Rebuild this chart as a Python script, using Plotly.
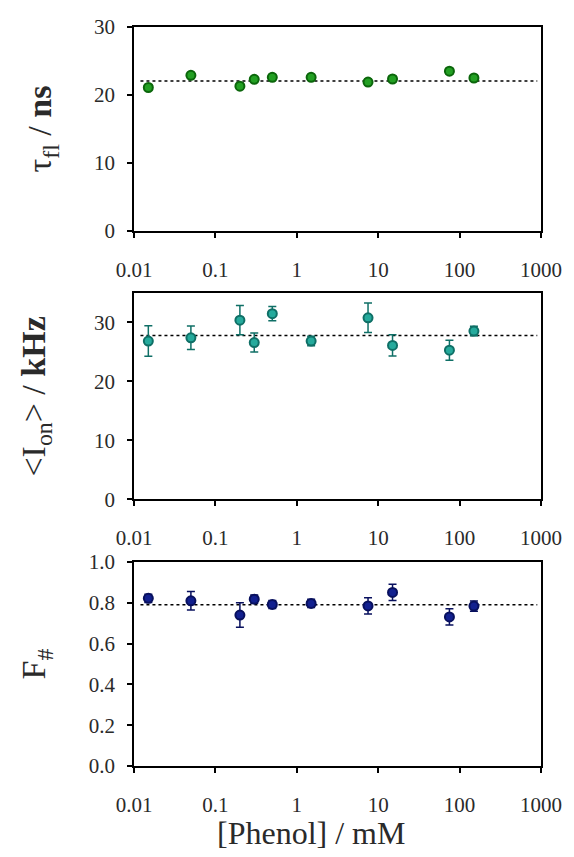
import plotly.graph_objects as go
from plotly.subplots import make_subplots

# Phenol concentrations (mM)
phenol_mM = [0.015, 0.05, 0.2, 0.3, 0.5, 1.5, 7.5, 15, 75, 150]

# Fluorescence lifetime (ns)
tau_fl = [21.1, 22.9, 21.3, 22.3, 22.6, 22.6, 21.9, 22.35, 23.5, 22.5]
tau_fl_err = [0.4, 0.4, 0.4, 0.4, 0.4, 0.4, 0.4, 0.4, 0.4, 0.4]

# Mean on-state intensity (kHz)
i_on = [26.85, 27.4, 30.4, 26.6, 31.5, 26.85, 30.8, 26.1, 25.3, 28.55]
i_on_err = [2.6, 2.0, 2.5, 1.6, 1.2, 0.8, 2.5, 1.8, 1.7, 0.8]

# Fraction F#
f_hash = [0.822, 0.81, 0.74, 0.818, 0.792, 0.797, 0.785, 0.851, 0.731, 0.784]
f_hash_err = [0.02, 0.045, 0.06, 0.02, 0.02, 0.02, 0.04, 0.04, 0.04, 0.025]

# Mean levels (dotted reference lines)
mean_tau = 22.05
mean_ion = 27.8
mean_f = 0.79
mean_x = [0.012, 900]

x_tickvals = [0.01, 0.1, 1, 10, 100, 1000]
x_ticktext = ["0.01", "0.1", "1", "10", "100", "1000"]

y_titles = ["τ<sub>fl</sub> / <b>ns</b>", "<I<sub>on</sub>> / <b>kHz</b>", "F<sub>#</sub>"]
x_title = "[Phenol] / mM"

fig = make_subplots(rows=3, cols=1, shared_xaxes=False, vertical_spacing=0.05)

SERIF = "Liberation Serif"
TEXT = "#2a2a2a"

panels = [
    (tau_fl, tau_fl_err, mean_tau, "#23a023", "#0b660b"),
    (i_on, i_on_err, mean_ion, "#25aa9c", "#0f6f66"),
    (f_hash, f_hash_err, mean_f, "#12208f", "#08105e"),
]

for i, (vals, errs, mean, fill, edge) in enumerate(panels, start=1):
    fig.add_trace(go.Scatter(
        x=mean_x, y=[mean, mean], mode="lines",
        line=dict(color="black", width=1.5, dash="dot"),
        showlegend=False, hoverinfo="skip"), row=i, col=1)
    fig.add_trace(go.Scatter(
        x=phenol_mM, y=vals, mode="markers",
        marker=dict(size=9, color=fill, line=dict(color=edge, width=2)),
        error_y=dict(type="data", array=errs, color=edge, thickness=1.5, width=4),
        showlegend=False), row=i, col=1)

# Domains of the three stacked panels
domains = [[0.724, 1.0], [0.361, 0.640], [0.0, 0.276]]
y_ranges = [[0, 30], [0, 35], [0, 1.0]]
y_dticks = [10, 10, 0.2]
y_formats = ["d", "d", ".1f"]
title_x_px = [42, 36, 36]

axis_common = dict(
    showline=True, linecolor="black", linewidth=1.5, mirror=True,
    ticks="outside", ticklen=5, tickwidth=1.5, tickcolor="black",
    showgrid=False, zeroline=False,
    tickfont=dict(family=SERIF, size=21, color=TEXT),
)

L, R, T, B = 134, 31, 27, 91
W, H = 574, 857
plot_w = W - L - R

for i in range(3):
    xa = "xaxis" if i == 0 else f"xaxis{i+1}"
    ya = "yaxis" if i == 0 else f"yaxis{i+1}"
    fig.layout[xa].update(
        type="log", range=[-2, 3], tickvals=x_tickvals, ticktext=x_ticktext,
        ticklabelstandoff=14, **axis_common)
    fig.layout[ya].update(
        domain=domains[i], range=y_ranges[i], dtick=y_dticks[i], tick0=0,
        tickformat=y_formats[i], ticklabelstandoff=8, **axis_common)
    fig.add_annotation(
        text=y_titles[i], textangle=-90, showarrow=False,
        xref="paper", yref="paper",
        x=(title_x_px[i] - L) / plot_w, y=sum(domains[i]) / 2,
        xanchor="center", yanchor="middle",
        font=dict(family=SERIF, size=34, color=TEXT))

fig.add_annotation(
    text=x_title, showarrow=False, xref="paper", yref="paper",
    x=(312 - L) / plot_w, y=-(833 - (H - B)) / (H - T - B),
    xanchor="center", yanchor="middle",
    font=dict(family=SERIF, size=32, color=TEXT))

fig.update_layout(
    width=W, height=H,
    margin=dict(l=L, r=R, t=T, b=B),
    paper_bgcolor="white", plot_bgcolor="white",
)

fig.write_html("out.html")
